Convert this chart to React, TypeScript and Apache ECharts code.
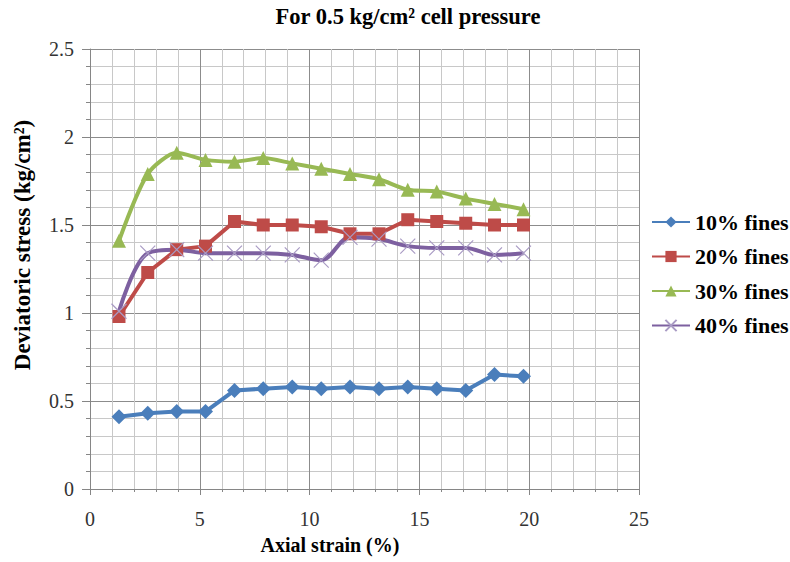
import React, { useEffect, useRef } from "react";
import * as echarts from "echarts";

const strain = [1.32, 2.63, 3.95, 5.26, 6.58, 7.89, 9.21, 10.53, 11.84, 13.16, 14.47, 15.79, 17.11, 18.42, 19.74];
const fines10 = [0.41, 0.43, 0.44, 0.44, 0.56, 0.57, 0.58, 0.57, 0.58, 0.57, 0.58, 0.57, 0.56, 0.65, 0.64];
const fines20 = [0.98, 1.23, 1.36, 1.38, 1.52, 1.5, 1.5, 1.49, 1.45, 1.45, 1.53, 1.52, 1.51, 1.5, 1.5];
const fines30 = [1.41, 1.79, 1.91, 1.87, 1.86, 1.88, 1.85, 1.82, 1.79, 1.76, 1.7, 1.69, 1.65, 1.62, 1.59];
const fines40 = [1.01, 1.34, 1.36, 1.34, 1.34, 1.34, 1.33, 1.3, 1.43, 1.42, 1.38, 1.37, 1.37, 1.33, 1.34];
const seriesNames = ["10% fines", "20% fines", "30% fines", "40% fines"];

const SERIF = '"Liberation Serif", "Times New Roman", serif';

function pairs(ys: number[]) {
  return strain.map((x, i) => [x, ys[i]]);
}

export default function App() {
  const ref = useRef<HTMLDivElement>(null);
  useEffect(() => {
    if (!ref.current) return;
    const chart = echarts.init(ref.current, undefined, { renderer: "svg" });
    const lineBase = (name: string, ys: number[], color: string) => ({
      name,
      type: "line",
      data: pairs(ys),
      lineStyle: { color, width: 4 },
      itemStyle: { color },
    });
    chart.setOption({
      animation: false,
      backgroundColor: "#ffffff",
      grid: { left: 90, right: 151, top: 49, bottom: 73 },
      graphic: [
        {
          type: "text",
          x: 408,
          y: 16,
          style: {
            text: "For 0.5 kg/cm² cell pressure",
            fontFamily: SERIF,
            fontWeight: "bold",
            fontSize: 22.5,
            fill: "#000",
            align: "center",
            verticalAlign: "middle",
          },
        },
        {
          type: "text",
          x: 330,
          y: 545,
          style: {
            text: "Axial strain (%)",
            fontFamily: SERIF,
            fontWeight: "bold",
            fontSize: 20,
            fill: "#000",
            align: "center",
            verticalAlign: "middle",
          },
        },
        {
          type: "text",
          x: 22,
          y: 245,
          rotation: Math.PI / 2,
          style: {
            text: "Deviatoric stress (kg/cm²)",
            fontFamily: SERIF,
            fontWeight: "bold",
            fontSize: 23,
            fill: "#000",
            align: "center",
            verticalAlign: "middle",
          },
        },
      ],
      legend: {
        orient: "vertical",
        left: 651,
        top: 211,
        padding: 0,
        itemGap: 12.5,
        itemWidth: 38,
        itemHeight: 14,
        data: seriesNames,
        textStyle: {
          fontFamily: SERIF,
          fontWeight: "bold",
          fontSize: 22,
          lineHeight: 22,
          color: "#000",
        },
      },
      xAxis: {
        type: "value",
        min: 0,
        max: 25,
        interval: 5,
        axisLine: { show: true, lineStyle: { color: "#868686" } },
        axisTick: { show: true, length: 6, lineStyle: { color: "#868686" } },
        minorTick: { show: true, splitNumber: 5, length: 3, lineStyle: { color: "#868686" } },
        splitLine: { show: true, lineStyle: { color: "#8c8c8c", width: 1 } },
        minorSplitLine: { show: true, lineStyle: { color: "#c8c8c8", width: 1 } },
        axisLabel: { fontFamily: SERIF, fontSize: 20, color: "#333", margin: 20 },
      },
      yAxis: {
        type: "value",
        min: 0,
        max: 2.5,
        interval: 0.5,
        axisLine: { show: true, lineStyle: { color: "#868686" } },
        axisTick: { show: true, length: 8, lineStyle: { color: "#868686" } },
        minorTick: { show: true, splitNumber: 5, length: 4, lineStyle: { color: "#868686" } },
        splitLine: { show: true, lineStyle: { color: "#8c8c8c", width: 1 } },
        minorSplitLine: { show: true, lineStyle: { color: "#c8c8c8", width: 1 } },
        axisLabel: { fontFamily: SERIF, fontSize: 20, color: "#333", margin: 16 },
      },
      series: [
        { ...lineBase(seriesNames[0], fines10, "#4A7EBB"), symbol: "diamond", symbolSize: 15 },
        { ...lineBase(seriesNames[1], fines20, "#BE4B48"), symbol: "rect", symbolSize: 13 },
        { ...lineBase(seriesNames[2], fines30, "#98B954"), symbol: "triangle", symbolSize: 14, smooth: 0.25 },
        {
          name: seriesNames[3],
          type: "line",
          data: pairs(fines40),
          smooth: 0.35,
          symbol: "path://M0,0L10,10M10,0L0,10",
          symbolSize: 15,
          lineStyle: { color: "#7D60A0", width: 4 },
          itemStyle: { color: "#A99BC4", borderColor: "#A99BC4", borderWidth: 1.2 },
        },
      ],
    });
    return () => chart.dispose();
  }, []);
  return <div ref={ref} style={{ width: 790, height: 562, position: "absolute", left: 0, top: 0 }} />;
}
